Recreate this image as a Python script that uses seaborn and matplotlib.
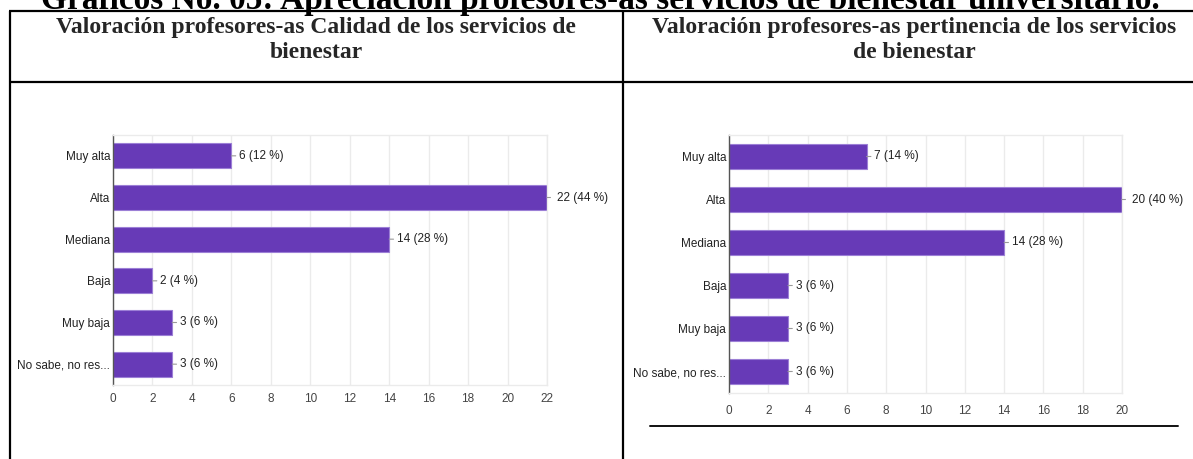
import matplotlib
matplotlib.use("Agg")
import matplotlib.pyplot as plt
from matplotlib.lines import Line2D
import seaborn as sns
import pandas as pd

# Survey answers shared by both charts
categories = ["Muy alta", "Alta", "Mediana", "Baja", "Muy baja", "No sabe, no res..."]

# Quality of the welfare services
calidad_counts = [6, 22, 14, 2, 3, 3]
calidad_pct = [12, 44, 28, 4, 6, 6]
calidad_ticks = list(range(0, 23, 2))

# Relevance of the welfare services
pertinencia_counts = [7, 20, 14, 3, 3, 3]
pertinencia_pct = [14, 40, 28, 6, 6, 6]
pertinencia_ticks = list(range(0, 21, 2))

page_title = "Gráficos No. 05: Apreciación profesores-as servicios de bienestar universitario."
header_left = ["Valoración profesores-as Calidad de los servicios de", "bienestar"]
header_right = ["Valoración profesores-as pertinencia de los servicios", "de bienestar"]

sns.set_theme(style="white")
plt.rcParams["font.family"] = ["Liberation Sans", "DejaVu Sans"]

W, H = 1193, 459
fig = plt.figure(figsize=(W / 100, H / 100), dpi=100)
fig.patch.set_facecolor("white")

BAR = "#673ab7"
EDGE = "#9c7fd6"
GRID = "#ebebeb"
FS = 8.5


def px_box(x0, y0, x1, y1):
    return [x0 / W, 1 - y1 / H, (x1 - x0) / W, (y1 - y0) / H]


def draw_chart(ax, counts, pcts, ticks, xpad):
    df = pd.DataFrame({"cat": categories, "n": counts})
    sns.barplot(data=df, x="n", y="cat", orient="h", color=BAR, width=0.6,
                edgecolor=EDGE, linewidth=0.8, saturation=1, ax=ax)
    ax.set_xlim(ticks[0], ticks[-1])
    ax.set_ylim(len(categories) - 0.5, -0.5)
    ax.set_xticks(ticks)
    ax.set_xlabel("")
    ax.set_ylabel("")
    ax.grid(axis="x", color=GRID, linewidth=1)
    ax.set_axisbelow(True)
    for side in ("top", "right", "bottom"):
        ax.spines[side].set_color(GRID)
        ax.spines[side].set_linewidth(1)
    ax.spines["left"].set_color("#555555")
    ax.spines["left"].set_linewidth(1)
    ax.tick_params(axis="y", length=0, pad=2, labelsize=FS, labelcolor="#222222")
    ax.tick_params(axis="x", length=0, pad=xpad, labelsize=FS, labelcolor="#444444")
    top = max(counts)
    for i, (n, p) in enumerate(zip(counts, pcts)):
        label = f"{n} ({p} %)"
        if n == top:
            ax.annotate("", xy=(n, i), xytext=(2.5, 0), textcoords="offset points",
                        arrowprops=dict(arrowstyle="-", color="#999999", lw=0.8,
                                        shrinkA=0, shrinkB=0), annotation_clip=False)
            ax.annotate(label, xy=(n, i), xytext=(7.5, 0), textcoords="offset points",
                        va="center", ha="left", fontsize=FS, color="#222222",
                        annotation_clip=False)
        else:
            ax.annotate(label, xy=(n, i), xytext=(5.5, 0), textcoords="offset points",
                        va="center", ha="left", fontsize=FS, color="#222222",
                        arrowprops=dict(arrowstyle="-", color="#999999", lw=0.8,
                                        shrinkA=0, shrinkB=0))


ax1 = fig.add_axes(px_box(113, 135, 547, 385))
draw_chart(ax1, calidad_counts, calidad_pct, calidad_ticks, xpad=6)

ax2 = fig.add_axes(px_box(729, 135, 1122, 393))
draw_chart(ax2, pertinencia_counts, pertinencia_pct, pertinencia_ticks, xpad=9)

# Document table frame
serif = ["Liberation Serif", "DejaVu Serif"]
fig.text(600 / W, 1 - 9 / H, page_title, ha="center", va="baseline",
         fontsize=24, fontweight="bold", family=serif, color="black")
frame = dict(color="black", linewidth=1.6, solid_capstyle="butt")
fig.add_artist(Line2D([9 / W, 1], [1 - 11 / H] * 2, **frame))
fig.add_artist(Line2D([9 / W, 1], [1 - 82 / H] * 2, **frame))
fig.add_artist(Line2D([10 / W] * 2, [0, 1 - 11 / H], **frame))
fig.add_artist(Line2D([623 / W] * 2, [0, 1 - 11 / H], **frame))
fig.add_artist(Line2D([650 / W, 1178 / W], [1 - 426 / H] * 2, color="#111111",
                      linewidth=1.4))

for cx, lines in ((316, header_left), (914, header_right)):
    for cy, line in zip((28, 53), lines):
        fig.text(cx / W, 1 - cy / H, line, ha="center", va="center",
                 fontsize=17, fontweight="bold", family=serif)

fig.savefig("out.png", dpi=100, facecolor="white")
